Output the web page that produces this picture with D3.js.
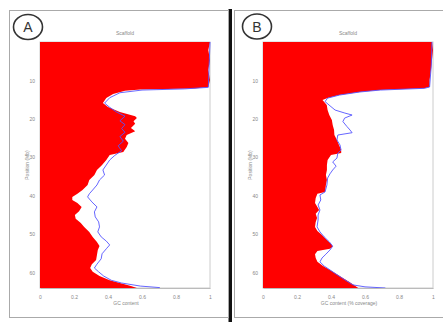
<!DOCTYPE html>
<html><head><meta charset="utf-8">
<script src="https://cdn.jsdelivr.net/npm/d3@7"></script>
<style>html,body{margin:0;padding:0;background:#fff;}svg{display:block;}</style>
</head><body>
<svg id="c" width="443" height="322"></svg>
<script>
// ---- data (position along y, fraction along x) ----
const yTicks = [10, 20, 30, 40, 50, 60];
const xTicks = [0, 0.2, 0.4, 0.6, 0.8, 1];

const redPosA = [0,2.1,4.7,7.3,9.9,11.7,12.1,12.36,12.7,13.5,14.6,15.9,16.9,18.2,19.3,19.8,20.6,21.3,22.4,23.2,24.2,25.2,26.3,27.3,28.6,29.4,30.7,32,33.3,34.6,35.9,37.2,38.5,39.5,40.3,41.1,41.9,42.9,44,45,46,47.1,48.1,49.4,50.7,52,53.1,54.1,55.4,56.7,57.8,58.8,59.8,60.9,62,62.7,63.5,64];
const redValA = [1.0,0.99,1.0,0.99,1.0,0.99,0.91,0.59,0.5,0.43,0.39,0.37,0.4,0.47,0.56,0.57,0.55,0.56,0.535,0.56,0.51,0.5,0.52,0.51,0.49,0.41,0.39,0.365,0.335,0.32,0.29,0.28,0.25,0.22,0.19,0.19,0.22,0.245,0.23,0.205,0.21,0.24,0.26,0.29,0.31,0.335,0.35,0.34,0.335,0.33,0.305,0.295,0.31,0.35,0.41,0.47,0.535,0.57];

const bluePosA = [0,6,11.8,12.2,12.5,13.2,14.5,15.9,17,18.2,19.3,20.5,21.5,22.5,23.5,24.6,25.8,27,28.3,29.5,30.7,32,33.3,34.6,35.9,37.2,38.5,39.5,40.3,41.6,42.9,44.2,45.5,46.8,48.1,49.4,50.7,51.8,52.8,53.8,55.1,56.4,57.8,58.8,59.8,60.9,62,62.7,63.5,63.9];
const blueValA = [1.0,0.995,0.99,0.85,0.6,0.47,0.41,0.38,0.41,0.45,0.5,0.47,0.5,0.48,0.5,0.47,0.49,0.46,0.48,0.44,0.41,0.39,0.37,0.38,0.35,0.335,0.31,0.29,0.28,0.305,0.335,0.32,0.325,0.345,0.35,0.34,0.36,0.39,0.41,0.39,0.365,0.36,0.335,0.32,0.345,0.375,0.42,0.48,0.59,0.705];

const redPosB = [0,2.1,4.7,7.3,9.9,11.7,12.05,12.5,13,13.8,14.6,15.1,16.4,17.7,19,20.3,21.6,22.9,24.2,25.5,26.8,28.1,28.9,29.4,30.7,32,33.3,34.6,35.9,37.2,39,39.5,40.6,41.9,42.9,43.7,44.7,45.8,46.8,48.1,49.2,50.2,51.5,52.5,53.3,53.8,54.4,55.2,56.2,57.2,58.3,59.3,60.4,61.4,62.4,63.2,64];
const redValB = [0.994,1.0,0.994,0.988,0.98,0.98,0.95,0.69,0.57,0.45,0.38,0.35,0.375,0.38,0.39,0.405,0.41,0.418,0.42,0.435,0.447,0.46,0.46,0.4,0.38,0.376,0.376,0.37,0.376,0.37,0.365,0.32,0.31,0.306,0.32,0.33,0.31,0.318,0.31,0.306,0.32,0.347,0.376,0.4,0.41,0.394,0.32,0.306,0.31,0.32,0.353,0.394,0.435,0.47,0.506,0.535,0.56];

const bluePosB = [0,6,11.7,12.05,12.5,13,13.8,14.6,15.5,16.6,17.7,18.5,19.0,19.8,20.7,22.0,22.9,23.6,24.2,25.5,26.8,28.1,28.9,30.2,31.2,32.3,33.3,34.3,35.4,37.2,39.0,39.8,41.1,42.4,43.7,45.0,46.3,48.1,49.4,50.7,52.0,53.1,54.1,55.2,56.2,57.2,58.3,59.3,60.4,61.4,62.4,63.2,63.7,64];
const blueValB = [0.994,0.99,0.98,0.95,0.69,0.57,0.45,0.38,0.365,0.394,0.424,0.482,0.524,0.48,0.47,0.494,0.512,0.524,0.44,0.435,0.453,0.459,0.44,0.435,0.41,0.43,0.41,0.394,0.38,0.376,0.365,0.335,0.34,0.324,0.335,0.324,0.324,0.318,0.335,0.36,0.39,0.41,0.394,0.37,0.347,0.335,0.36,0.394,0.43,0.465,0.5,0.53,0.6,0.72];

const panels = [
  {letter:"A", title:"Scaffold", xLabel:"GC content", yLabel:"Position (Mb)",
   box:[9,10,219,307], plot:[40,210], circle:[28,27],
   redPos:redPosA, redVal:redValA, bluePos:bluePosA, blueVal:blueValA},
  {letter:"B", title:"Scaffold", xLabel:"GC content (% coverage)", yLabel:"Position (Mb)",
   box:[234,10,209,307], plot:[263,433], circle:[257,26.5],
   redPos:redPosB, redVal:redValB, bluePos:bluePosB, blueVal:blueValB}
];

const svg = d3.select("#c");
const yTop = 42, yBot = 288;
const FONT = "Liberation Sans, Arial, sans-serif";

// separator bar
svg.append("rect").attr("x",228.5).attr("y",9).attr("width",3.5).attr("height",313).attr("fill","#111");

panels.forEach(p => {
  const g = svg.append("g");
  g.append("rect").attr("x",p.box[0]+0.5).attr("y",p.box[1]+0.5).attr("width",p.box[2]).attr("height",p.box[3])
    .attr("fill","none").attr("stroke","#aaa").attr("stroke-width",1);

  const x = d3.scaleLinear().domain([0,1]).range(p.plot);
  const y = d3.scaleLinear().domain([0,64]).range([yTop,yBot]);

  g.append("rect").attr("x",p.plot[0]).attr("y",yTop).attr("width",p.plot[1]-p.plot[0]).attr("height",yBot-yTop)
    .attr("fill","none").attr("stroke","#ccc").attr("stroke-width",1);

  const red = p.redPos.map((v,i)=>({pos:v,val:p.redVal[i]}));
  const blue = p.bluePos.map((v,i)=>({pos:v,val:p.blueVal[i]}));

  g.append("path").datum(red)
    .attr("d", d3.area().y(d=>y(d.pos)).x0(x(0)).x1(d=>x(d.val)))
    .attr("fill","#ff0000");

  g.append("path").datum(blue)
    .attr("d", d3.line().y(d=>y(d.pos)).x(d=>x(d.val)))
    .attr("fill","none").attr("stroke","#5555ff").attr("stroke-width",0.9);

  const xa = g.append("g").attr("transform",`translate(0,${yBot})`)
    .call(d3.axisBottom(x).tickValues(xTicks).tickSize(0).tickPadding(7).tickFormat(d=>d===0?"0":d===1?"1":d3.format(".1f")(d)));
  xa.select(".domain").attr("stroke","#bbb");
  xa.selectAll("text").attr("font-size",5).attr("fill","#888").attr("font-family",FONT);

  const ya = g.append("g").attr("transform",`translate(${p.plot[0]},0)`)
    .call(d3.axisLeft(y).tickValues(yTicks).tickSize(0).tickPadding(5));
  ya.select(".domain").remove();
  ya.selectAll("text").attr("font-size",5).attr("fill","#888").attr("font-family",FONT);

  g.append("text").attr("x",(p.plot[0]+p.plot[1])/2).attr("y",35).attr("text-anchor","middle")
    .attr("font-size",5).attr("fill","#888").attr("font-family",FONT).text(p.title);
  g.append("text").attr("x",(p.plot[0]+p.plot[1])/2 + 1).attr("y",305).attr("text-anchor","middle")
    .attr("font-size",5).attr("fill","#888").attr("font-family",FONT).text(p.xLabel);
  g.append("text").attr("transform",`translate(${p.plot[0]-11},${(yTop+yBot)/2}) rotate(-90)`).attr("text-anchor","middle")
    .attr("font-size",5).attr("fill","#888").attr("font-family",FONT).text(p.yLabel);

  g.append("ellipse").attr("cx",p.circle[0]).attr("cy",p.circle[1]).attr("rx",14.5).attr("ry",12.5)
    .attr("fill","none").attr("stroke","#333").attr("stroke-width",1.6);
  g.append("text").attr("x",p.circle[0]).attr("y",p.circle[1]+5).attr("text-anchor","middle")
    .attr("font-size",14).attr("fill","#333").attr("font-family",FONT).text(p.letter);
});
</script>
</body></html>
